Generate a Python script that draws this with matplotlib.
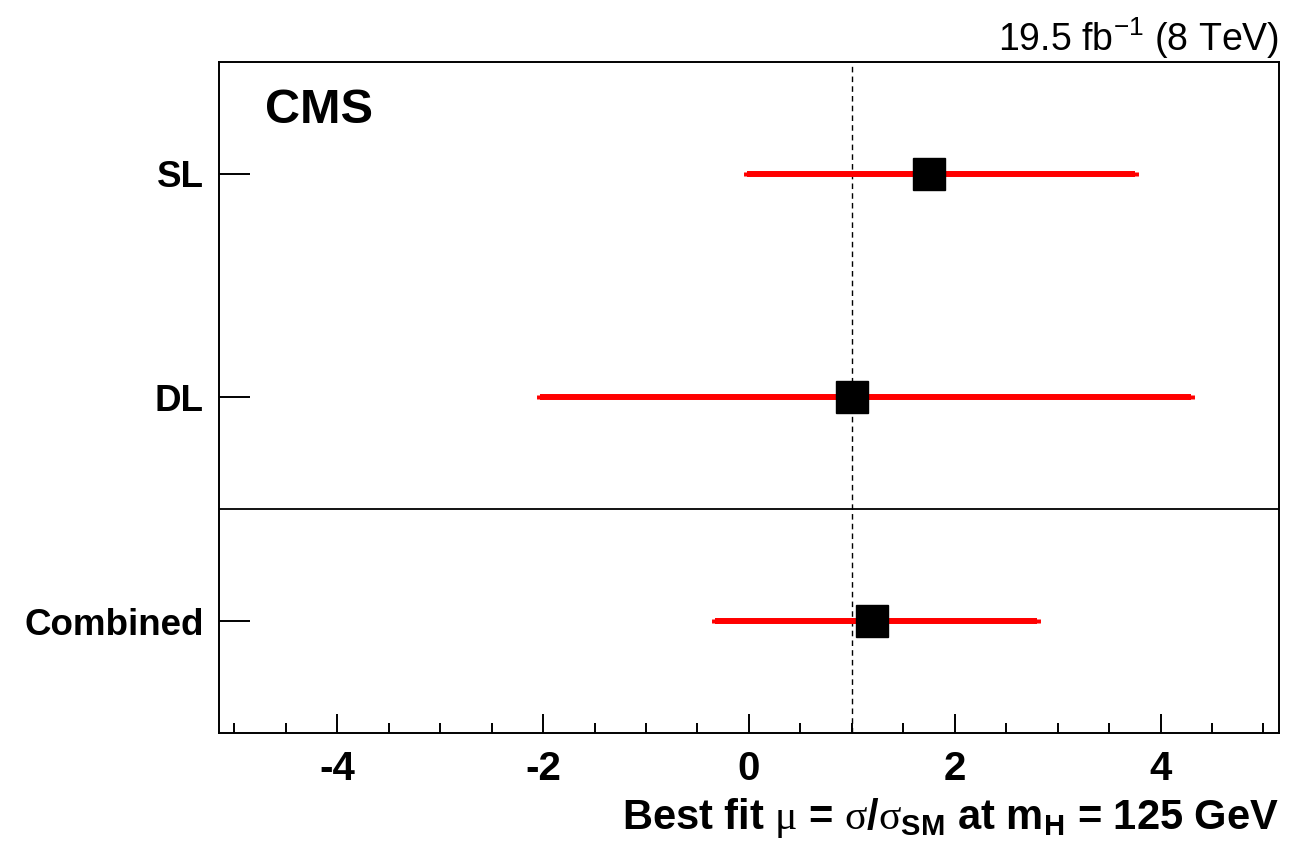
import numpy as np
import matplotlib
matplotlib.use("Agg")
import matplotlib.pyplot as plt

# Mejor ajuste de mu por canal (lectura del grafico)
canales = ["Combined", "DL", "SL"]
mu_central = [1.2, 1.0, 1.75]
mu_bajo = [-0.33, -2.03, -0.02]
mu_alto = [2.8, 4.3, 3.75]
posiciones = [0.5, 1.5, 2.5]

plt.rcParams['font.family'] = ['Liberation Sans', 'DejaVu Sans']
plt.rcParams['axes.unicode_minus'] = False
plt.rcParams['mathtext.fontset'] = 'custom'
plt.rcParams['mathtext.rm'] = 'Liberation Sans:bold'
plt.rcParams['mathtext.bf'] = 'Liberation Sans:bold'
plt.rcParams['mathtext.it'] = 'Liberation Serif'
plt.rcParams['mathtext.default'] = 'rm'

fig = plt.figure(figsize=(13.09, 8.55), dpi=100)
ax = fig.add_axes([0.1673, 0.1427, 0.8097, 0.7848])

centro = np.array(mu_central)
err = [centro - np.array(mu_bajo), np.array(mu_alto) - centro]
ax.errorbar(centro, posiciones, xerr=err, fmt='none', ecolor='#ff0000',
            elinewidth=4.3, capsize=1.5, capthick=5, zorder=3)
ax.plot(centro, posiciones, 's', color='black', markersize=23, zorder=4)

ax.axvline(1.0, color='black', linestyle=(0, (4, 3)), linewidth=1.0, zorder=2)
ax.axhline(1.0, color='black', linewidth=1.3)

ax.set_xlim(-5.15, 5.15)
ax.set_ylim(0, 3)
ax.set_xticks([-4, -2, 0, 2, 4])
ax.set_xticks(np.arange(-5, 5.01, 0.5), minor=True)
ax.set_yticks(posiciones)
ax.set_yticklabels(canales, fontsize=26.5, fontweight='bold')
ax.tick_params(axis='x', which='major', direction='in', length=14, width=1.4,
               labelsize=29, pad=12)
ax.tick_params(axis='x', which='minor', direction='in', length=7, width=1.4)
for etiqueta in ax.get_xticklabels():
    etiqueta.set_fontweight('bold')
ax.tick_params(axis='y', direction='in', length=22, width=1.4, pad=11)
for lado in ax.spines.values():
    lado.set_linewidth(1.4)

ax.text(0.043, 0.928, "CMS", transform=ax.transAxes, fontsize=35,
        fontweight='bold', va='center', ha='left')
fig.text(0.977, 0.955, r"19.5 fb$^{\mathregular{-1}}$ (8 TeV)", fontsize=27,
         ha='right', va='center')
ax.set_xlabel(r"Best fit $\mathit{\mu}$ = $\mathit{\sigma}$/$\mathit{\sigma}_{\mathrm{SM}}$ at m$_{\mathrm{H}}$ = 125 GeV",
              fontsize=30, fontweight='bold', loc='right', labelpad=6)

fig.savefig("out.png", dpi=100)
